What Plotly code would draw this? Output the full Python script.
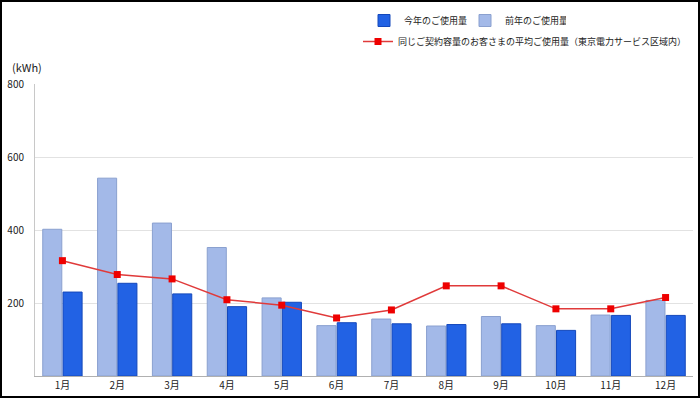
import plotly.graph_objects as go

months = ["1月", "2月", "3月", "4月", "5月", "6月", "7月", "8月", "9月", "10月", "11月", "12月"]
prev_year = [402, 542, 419, 352, 214, 138, 156, 137, 163, 138, 167, 207]
this_year = [230, 254, 225, 190, 202, 146, 143, 141, 143, 125, 166, 166]
average = [316, 278, 266, 209, 194, 159, 181, 247, 247, 184, 184, 215]
y_ticks = [200, 400, 600, 800]

W, H = 700, 398
ML, MR, MT, MB = 35, 7, 84, 22
PW, PH = W - ML - MR, H - MT - MB

FONT = "Noto Sans CJK JP, Noto Sans, sans-serif"

fig = go.Figure()
fig.add_trace(go.Bar(
    x=months, y=prev_year, name="前年のご使用量",
    marker=dict(color="#a3b9e8", line=dict(color="#8aa0cf", width=1)),
    legend="legend", legendrank=2,
))
fig.add_trace(go.Bar(
    x=months, y=this_year, name="今年のご使用量",
    marker=dict(color="#2262e4", line=dict(color="#1448bb", width=1)),
    legend="legend", legendrank=1,
))
fig.add_trace(go.Scatter(
    x=months, y=average, mode="lines+markers",
    name="同じご契約容量のお客さまの平均ご使用量（東京電力サービス区域内）",
    line=dict(color="#e03a3a", width=1.5),
    marker=dict(symbol="square", size=7, color="#ee0000"),
    legend="legend2",
))

fig.update_layout(
    width=W, height=H,
    margin=dict(l=ML, r=MR, t=MT, b=MB, autoexpand=False),
    paper_bgcolor="white", plot_bgcolor="white",
    font=dict(family=FONT, size=10, color="#222"),
    barmode="group", bargap=0.26, bargroupgap=0.06,
    showlegend=True,
    legend=dict(
        orientation="h", x=(364 - ML) / PW, y=1 + (MT - 6) / PH,
        xanchor="left", yanchor="top", font=dict(size=9),
        bgcolor="rgba(0,0,0,0)", traceorder="normal",
        itemwidth=30, tracegroupgap=0,
        entrywidth=56, entrywidthmode="pixels",
    ),
    legend2=dict(
        orientation="h", x=(358 - ML) / PW, y=1 + (MT - 27) / PH,
        xanchor="left", yanchor="top", font=dict(size=9),
        bgcolor="rgba(0,0,0,0)", itemwidth=30,
    ),
    xaxis=dict(
        range=[-0.5, len(months) - 0.5], autorange=False,
        showline=True, linecolor="#b0b0b0", linewidth=1,
        ticks="", tickfont=dict(size=10, color="#222"),
        showgrid=False,
    ),
    yaxis=dict(
        range=[0, 800], tickvals=y_ticks,
        showline=True, linecolor="#c8c8c8", linewidth=1,
        showgrid=True, gridcolor="#e2e2e2", gridwidth=1,
        zeroline=False, ticks="", ticklabelstandoff=8,
        tickfont=dict(size=10, color="#222"),
    ),
    annotations=[dict(
        text="(kWh)", xref="paper", yref="paper",
        x=-25 / PW, y=1 + (MT - 67) / PH, xanchor="left", yanchor="middle",
        showarrow=False, font=dict(size=11, color="#222"),
    )],
    shapes=[dict(
        type="rect", xref="paper", yref="paper",
        x0=(-ML + 1) / PW, x1=1 + (MR - 1) / PW,
        y0=(-MB + 1) / PH, y1=1 + (MT - 1) / PH,
        line=dict(color="black", width=2), fillcolor="rgba(0,0,0,0)",
        layer="above",
    )],
)

fig.write_html(
    "out.html",
    config={"displayModeBar": False},
    post_script="document.body.style.margin='0';document.body.style.overflow='hidden';",
)
